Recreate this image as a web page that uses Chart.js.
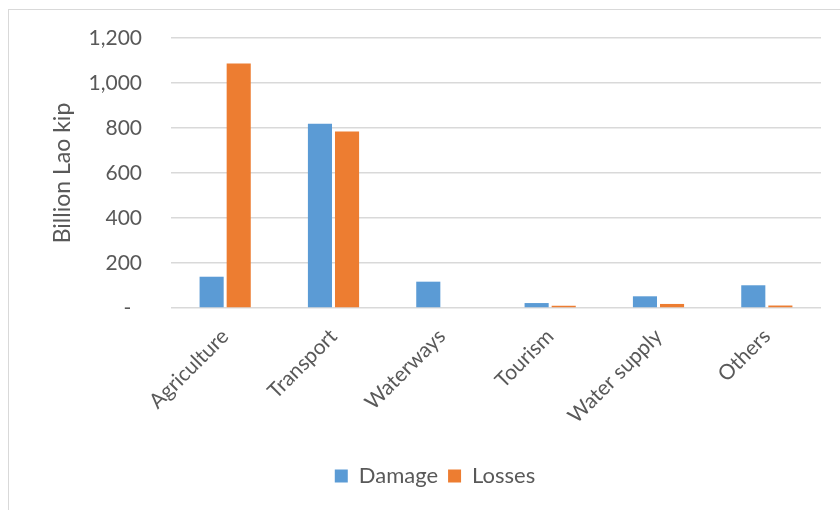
<!DOCTYPE html>
<html>
<head>
<meta charset="utf-8">
<script src="https://cdn.jsdelivr.net/npm/chart.js@4.4.1/dist/chart.umd.min.js"></script>
<style>
    html, body { margin: 0; padding: 0; background: #ffffff; overflow: hidden; }
    #wrap { position: relative; width: 840px; height: 510px; }
    #frame {
        position: absolute; left: 8px; top: 9px; width: 900px; height: 600px;
        border: 1px solid #d9d9d9; box-sizing: border-box;
    }
    canvas { position: absolute; left: 0; top: 0; }
</style>
</head>
<body>
<div id="wrap">
    <div id="frame"></div>
    <canvas id="sectorChart" width="840" height="510"></canvas>
</div>
<script>
// Damage and losses by sector (Billion Lao kip)

const sectors = ['Agriculture', 'Transport', 'Waterways', 'Tourism', 'Water supply', 'Others'];
const damage = [139, 819, 117, 22, 52, 101];
const losses = [1087, 784, 0, 10, 18, 11];
const yTicks = [0, 200, 400, 600, 800, 1000, 1200];

const textColor = '#595959';
const gridColor = '#d9d9d9';
const fontFamily = 'Lato, "Open Sans", sans-serif';

const ctx = document.getElementById('sectorChart').getContext('2d');

new Chart(ctx, {
    type: 'bar',
    data: {
        labels: sectors,
        datasets: [
            {
                label: 'Damage',
                data: damage,
                backgroundColor: '#5b9bd5',
                borderWidth: 0,
                categoryPercentage: 0.5,
                barPercentage: 0.89
            },
            {
                label: 'Losses',
                data: losses,
                backgroundColor: '#ed7d31',
                borderWidth: 0,
                categoryPercentage: 0.5,
                barPercentage: 0.89
            }
        ]
    },
    options: {
        responsive: false,
        animation: false,
        layout: {
            padding: { left: 49, right: 19, top: 38, bottom: 13 }
        },
        scales: {
            x: {
                grid: { display: false },
                border: { display: false },
                ticks: {
                    color: textColor,
                    font: { family: fontFamily, size: 21 },
                    minRotation: 45,
                    maxRotation: 45,
                    padding: 8
                },
                afterFit(scale) {
                    scale.height = 147;
                }
            },
            y: {
                min: 0,
                max: 1200,
                afterBuildTicks(scale) {
                    scale.ticks = yTicks.map(v => ({ value: v }));
                },
                grid: {
                    color: gridColor,
                    lineWidth: 1.5,
                    drawTicks: false
                },
                border: { display: false },
                ticks: {
                    color: textColor,
                    font: { family: fontFamily, size: 21 },
                    padding: 29,
                    callback: v => v === 0 ? '-  ' : v.toLocaleString('en-US')
                },
                title: {
                    display: true,
                    text: 'Billion Lao kip',
                    color: textColor,
                    font: { family: fontFamily, size: 23 },
                    padding: { top: 0, bottom: 0 }
                },
                afterFit(scale) {
                    scale.width = 122;
                    scale.paddingTop = 0;
                    scale.paddingBottom = 0;
                }
            }
        },
        plugins: {
            legend: {
                position: 'bottom',
                labels: {
                    color: textColor,
                    font: { family: fontFamily, size: 22 },
                    boxWidth: 13,
                    boxHeight: 13,
                    padding: 10
                }
            },
            tooltip: { enabled: false }
        }
    }
});
</script>
</body>
</html>
